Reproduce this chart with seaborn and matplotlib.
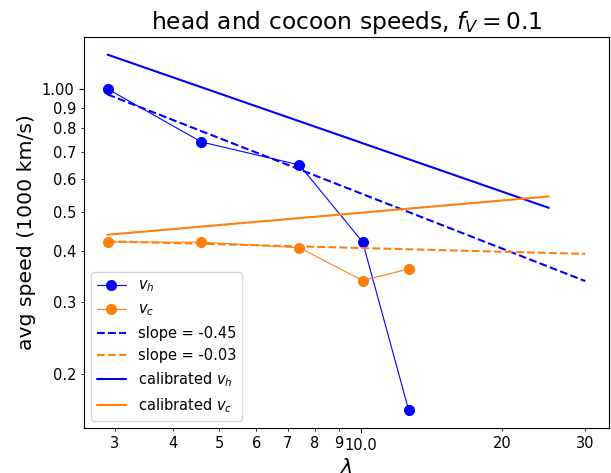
import matplotlib
matplotlib.use("Agg")
import matplotlib.pyplot as plt
import seaborn as sns
import pandas as pd

# values
lam = [2.9, 4.59, 7.41, 10.1, 12.65]
v_h = [1.00, 0.741, 0.651, 0.421, 0.163]
v_c = [0.421, 0.421, 0.408, 0.339, 0.362]

# power-law fits (end points)
fit_lam = [2.9, 30.0]
fit_h = [0.969, 0.338]
fit_c = [0.423, 0.394]

# calibrated curves (end points)
cal_lam = [2.9, 25.1]
cal_h = [1.213, 0.511]
cal_c = [0.439, 0.545]

x_major = [10]
x_major_labels = ["10.0"]
x_minor = [3, 4, 5, 6, 7, 8, 9, 20, 30]
x_minor_labels = ["3", "4", "5", "6", "7", "8", "9", "20", "30"]
y_major = [1.0]
y_major_labels = ["1.00"]
y_minor = [0.2, 0.3, 0.4, 0.5, 0.6, 0.7, 0.8, 0.9]
y_minor_labels = ["0.2", "0.3", "0.4", "0.5", "0.6", "0.7", "0.8", "0.9"]

# plain matplotlib-looking style
sns.set_style("ticks", rc={
    "axes.edgecolor": "black", "text.color": "black", "axes.labelcolor": "black",
    "xtick.color": "black", "ytick.color": "black",
    "xtick.major.size": 3.5, "ytick.major.size": 3.5,
    "xtick.minor.size": 2, "ytick.minor.size": 2,
})
plt.rcParams["font.family"] = ["DejaVu Sans"]

fig, ax = plt.subplots(figsize=(6.11, 4.73), dpi=100)

df = pd.DataFrame({"lam": lam, "v_h": v_h, "v_c": v_c})
sns.lineplot(data=df, x="lam", y="v_h", ax=ax, color="blue", marker="o",
             markersize=8, markeredgewidth=0, linewidth=0.8, sort=False, label=r"$v_h$")
sns.lineplot(data=df, x="lam", y="v_c", ax=ax, color="#ff7f0e", marker="o",
             markersize=8, markeredgewidth=0, linewidth=0.8, sort=False, label=r"$v_c$")

ax.plot(fit_lam, fit_h, "--", color="blue", linewidth=1.5, label="slope = -0.45")
ax.plot(fit_lam, fit_c, "--", color="#ff7f0e", linewidth=1.5, label="slope = -0.03")
ax.plot(cal_lam, cal_h, "-", color="blue", linewidth=1.5, label=r"calibrated $v_h$")
ax.plot(cal_lam, cal_c, "-", color="#ff7f0e", linewidth=1.5, label=r"calibrated $v_c$")

ax.set_xscale("log")
ax.set_yscale("log")
ax.set_xticks(x_major, labels=x_major_labels)
ax.set_xticks(x_minor, labels=x_minor_labels, minor=True)
ax.set_yticks(y_major, labels=y_major_labels)
ax.set_yticks(y_minor, labels=y_minor_labels, minor=True)
ax.tick_params(which="both", labelsize=10.5)

ax.set_title(r"head and cocoon speeds, $f_V = 0.1$", fontsize=16.8)
ax.set_xlabel(r"$\lambda$", fontsize=14.7)
ax.set_ylabel("avg speed (1000 km/s)", fontsize=14.7)
ax.legend(loc="lower left", fontsize=10.5)

fig.subplots_adjust(left=0.137, right=0.997, bottom=0.095, top=0.922)
fig.savefig("out.png", dpi=100)
